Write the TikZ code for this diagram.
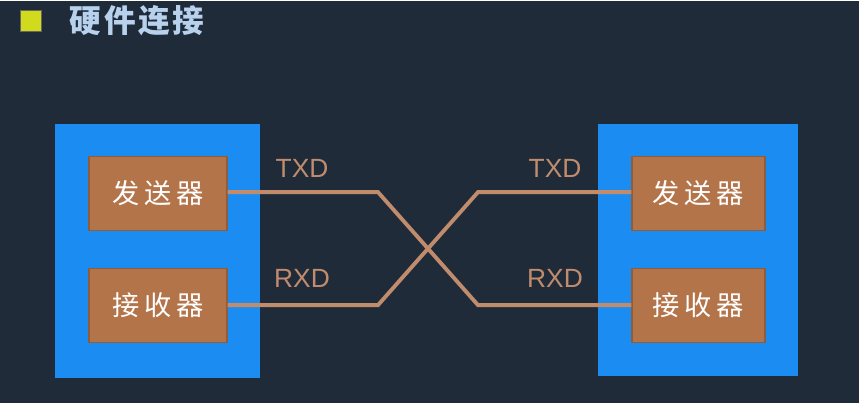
\documentclass[tikz,border=0pt]{standalone}
\usepackage{fontspec}
\setmainfont{Liberation Sans}
\newfontfamily\cjk[LetterSpace=18]{Noto Sans CJK SC}
\newfontfamily\cjktitle[LetterSpace=8]{Noto Sans CJK SC}
\usetikzlibrary{positioning}

\definecolor{bgcol}{HTML}{202B3A}
\definecolor{devblue}{HTML}{1A8CF2}
\definecolor{unitbrown}{HTML}{B4744A}
\definecolor{wirecol}{HTML}{C08C6C}
\definecolor{titlecol}{HTML}{B8D2EE}
\definecolor{markcol}{HTML}{D2DA1C}

\tikzset{
    device/.style={fill=devblue, inner sep=0pt},
    unit/.style={fill=unitbrown, draw=unitbrown!80!black, line width=0.6pt,
        inner sep=0pt, minimum height=1.48cm, text=white,
        font=\cjk\fontsize{15.5}{18}\selectfont},
    wire/.style={draw=wirecol, line width=2.2pt},
    sig/.style={text=wirecol, font=\fontsize{15}{18}\selectfont}
}

\begin{document}
\begin{tikzpicture}[x=0.02cm, y=-0.02cm]
    \fill[bgcol] (0,0) rectangle (859,402);

    % title
    \node[fill=markcol, draw=black!60, minimum size=0.42cm, inner sep=0pt] (mark) at (31,20) {};
    \node[text=titlecol, font=\cjktitle\bfseries\fontsize{18}{21}\selectfont] (title) at (137,20) {硬件连接};

    % the two devices
    \node[device, minimum width=4.1cm, minimum height=5.08cm] (ldev) at (157.5,250) {};
    \node[device, minimum width=4.0cm, minimum height=5.04cm] (rdev) at (698,249) {};

    \node[unit, minimum width=2.76cm] (lsend) at (158,192) {发送器};
    \node[unit, minimum width=2.76cm] (lrecv) at (158,304.5) {接收器};
    \node[unit, minimum width=2.66cm] (rsend) at (698.5,192) {发送器};
    \node[unit, minimum width=2.66cm] (rrecv) at (698.5,304.5) {接收器};

    % crossed wires
    \coordinate (tl) at (378,191);
    \coordinate (bl) at (378,304);
    \coordinate (tr) at (478,191);
    \coordinate (br) at (478,304);
    \draw[wire] (lsend.east |- tl) -- (tl) -- (br) -- (rrecv.west |- br);
    \draw[wire] (lrecv.east |- bl) -- (bl) -- (tr) -- (rsend.west |- tr);

    \node[sig] (ltxd) at (302,167) {TXD};
    \node[sig] (lrxd) at (302,277) {RXD};
    \node[sig] (rtxd) at (555,167) {TXD};
    \node[sig] (rrxd) at (555,277) {RXD};
\end{tikzpicture}
\end{document}
